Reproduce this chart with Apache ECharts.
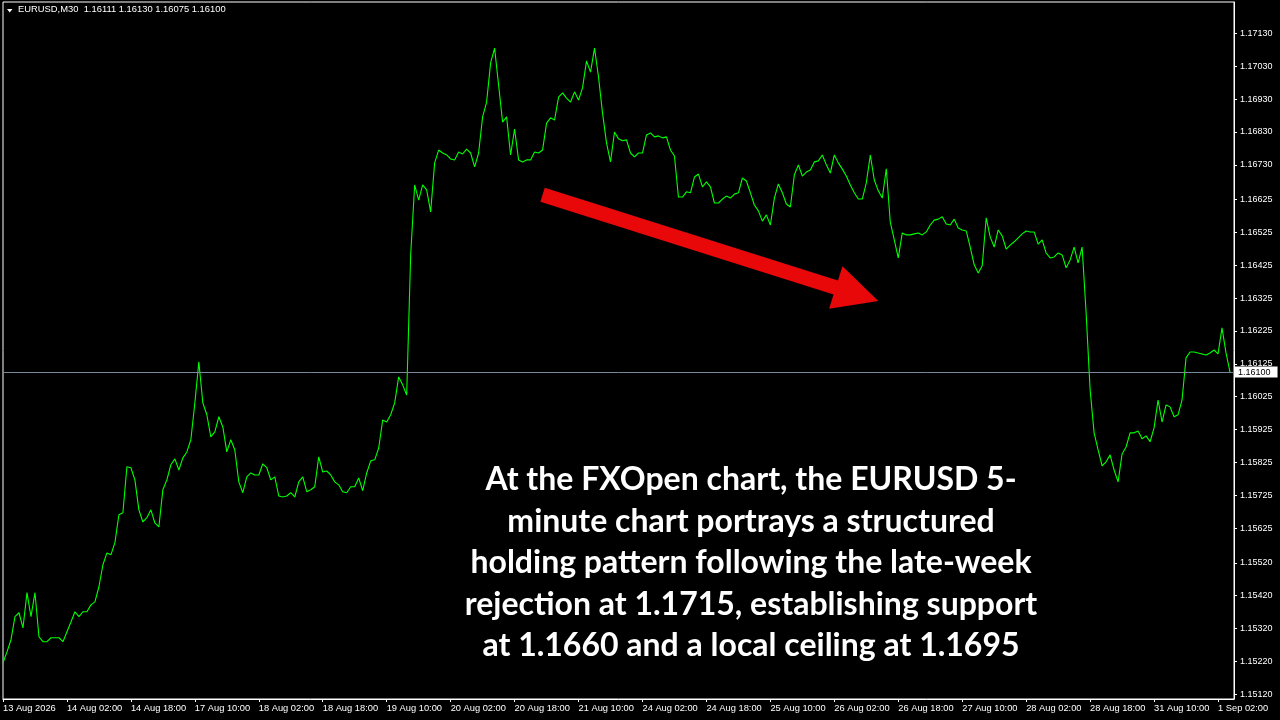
<!DOCTYPE html>
<html>
<head>
<meta charset="utf-8">
<script src="https://cdn.jsdelivr.net/npm/echarts@6.0.0/dist/echarts.min.js"></script>
<style>
  html, body { margin: 0; padding: 0; background: #000; }
  #c { width: 1280px; height: 720px; }
</style>
</head>
<body>
<div id="c"></div>
<script>
// ---- data ----
const SYMBOL = "EURUSD,M30";
const OHLC = ["1.16111", "1.16130", "1.16075", "1.16100"];
const CURRENT_PRICE = 1.16100;

// x-axis tick labels (one every 32 M30 bars = every 16 sampled points)
const X_LABELS = ["13 Aug 2026","14 Aug 02:00","14 Aug 18:00","17 Aug 10:00","18 Aug 02:00",
  "18 Aug 18:00","19 Aug 10:00","20 Aug 02:00","20 Aug 18:00","21 Aug 10:00","24 Aug 02:00",
  "24 Aug 18:00","25 Aug 10:00","26 Aug 02:00","26 Aug 18:00","27 Aug 10:00","28 Aug 02:00",
  "28 Aug 18:00","31 Aug 10:00","1 Sep 02:00"];
const X_LABEL_EVERY = 16;

// y-axis tick labels (price scale on the right)
const Y_TICKS = ["1.17130","1.17030","1.16930","1.16830","1.16730","1.16625","1.16525","1.16425",
  "1.16325","1.16225","1.16125","1.16025","1.15925","1.15825","1.15725","1.15625","1.15520",
  "1.15420","1.15320","1.15220","1.15120"];

// closing prices, sampled every second M30 bar
const PRICES = [
  1.15216,1.15249,1.15286,1.15356,1.15368,1.15322,1.15429,1.15356,1.15429,1.15295,
  1.15280,1.15280,1.15292,1.15292,1.15292,1.15280,1.15310,1.15340,1.15371,1.15356,
  1.15371,1.15371,1.15392,1.15401,1.15447,1.15514,1.15550,1.15544,1.15581,1.15666,
  1.15672,1.15812,1.15809,1.15772,1.15681,1.15644,1.15657,1.15681,1.15641,1.15629,
  1.15742,1.15772,1.15818,1.15836,1.15802,1.15839,1.15857,1.15894,1.16006,1.16131,
  1.16006,1.15970,1.15903,1.15918,1.15964,1.15933,1.15857,1.15894,1.15863,1.15766,
  1.15733,1.15781,1.15793,1.15787,1.15787,1.15821,1.15809,1.15772,1.15781,1.15723,
  1.15720,1.15723,1.15733,1.15720,1.15766,1.15781,1.15736,1.15742,1.15751,1.15842,
  1.15796,1.15799,1.15787,1.15766,1.15757,1.15736,1.15733,1.15751,1.15751,1.15778,
  1.15739,1.15793,1.15830,1.15833,1.15869,1.15954,1.15948,1.15970,1.16006,1.16085,
  1.16061,1.16030,1.16456,1.16669,1.16623,1.16669,1.16654,1.16587,1.16736,1.16775,
  1.16766,1.16760,1.16748,1.16745,1.16769,1.16763,1.16778,1.16766,1.16724,1.16766,
  1.16876,1.16921,1.17040,1.17085,1.16973,1.16860,1.16876,1.16760,1.16839,1.16745,
  1.16739,1.16745,1.16745,1.16769,1.16766,1.16775,1.16857,1.16873,1.16866,1.16936,
  1.16949,1.16933,1.16921,1.16952,1.16927,1.16964,1.17046,1.17012,1.17085,1.16997,
  1.16888,1.16797,1.16739,1.16830,1.16809,1.16803,1.16806,1.16766,1.16754,1.16766,
  1.16766,1.16821,1.16827,1.16815,1.16818,1.16812,1.16815,1.16775,1.16757,1.16632,
  1.16632,1.16648,1.16645,1.16693,1.16702,1.16663,1.16678,1.16663,1.16614,1.16614,
  1.16626,1.16635,1.16629,1.16641,1.16645,1.16690,1.16681,1.16645,1.16608,1.16590,
  1.16559,1.16578,1.16547,1.16629,1.16672,1.16645,1.16611,1.16602,1.16699,1.16730,
  1.16696,1.16708,1.16714,1.16739,1.16742,1.16760,1.16730,1.16705,1.16760,1.16736,
  1.16717,1.16696,1.16669,1.16645,1.16626,1.16626,1.16675,1.16760,1.16684,1.16651,
  1.16629,1.16718,1.16556,1.16502,1.16447,1.16523,1.16517,1.16517,1.16520,1.16523,
  1.16517,1.16526,1.16547,1.16562,1.16565,1.16572,1.16550,1.16547,1.16565,1.16538,
  1.16532,1.16529,1.16480,1.16426,1.16401,1.16423,1.16569,1.16511,1.16480,1.16532,
  1.16514,1.16474,1.16486,1.16496,1.16508,1.16520,1.16529,1.16526,1.16526,1.16489,
  1.16502,1.16462,1.16447,1.16450,1.16462,1.16456,1.16417,1.16441,1.16480,1.16432,
  1.16480,1.16280,1.16046,1.15915,1.15863,1.15815,1.15827,1.15848,1.15802,1.15766,
  1.15851,1.15872,1.15915,1.15915,1.15921,1.15897,1.15906,1.15888,1.15930,1.16015,
  1.15948,1.16000,1.15994,1.15964,1.15970,1.16015,1.16143,1.16161,1.16161,1.16158,
  1.16155,1.16152,1.16158,1.16167,1.16155,1.16234,1.16158,1.16100
];

// one empty slot after the last bar (chart shift on the right)
const CATEGORIES = Array.from({ length: PRICES.length + 1 }, (_, i) => i);

// annotation arrow (category index, price) and caption
const ARROW_FROM = [135, 1.16639];
const ARROW_TO = [219, 1.16316];
const CAPTION = [
  "At the FXOpen chart, the EURUSD 5-",
  "minute chart portrays a structured",
  "holding pattern following the late-week",
  "rejection at 1.1715, establishing support",
  "at 1.1660 and a local ceiling at 1.1695"
];

// ---- chart ----
const AXIS_FONT = "Liberation Sans";
const chart = echarts.init(document.getElementById('c'), null, { renderer: 'canvas' });

const option = {
  backgroundColor: '#000',
  animation: false,
  grid: { left: 2, right: 46, top: 2, bottom: 21, show: true, borderColor: '#ffffff', borderWidth: 1, backgroundColor: 'transparent' },
  xAxis: {
    type: 'category',
    data: CATEGORIES,
    boundaryGap: false,
    axisLine: { show: true, lineStyle: { color: '#ffffff', width: 1 } },
    axisTick: { show: true, length: 3, interval: (i) => i % X_LABEL_EVERY === 0, lineStyle: { color: '#ffffff' } },
    axisLabel: {
      show: true,
      interval: (i) => i % X_LABEL_EVERY === 0,
      formatter: (v, i) => X_LABELS[i / X_LABEL_EVERY] || '',
      align: 'left',
      color: '#ffffff',
      fontFamily: AXIS_FONT,
      fontSize: 9.3,
      margin: 5,
      hideOverlap: false
    },
    splitLine: { show: false }
  },
  yAxis: {
    type: 'value',
    position: 'right',
    min: 1.151057,
    max: 1.172252,
    scale: true,
    axisLine: { show: true, lineStyle: { color: '#ffffff', width: 1 } },
    axisTick: { show: true, length: 3, customValues: Y_TICKS.map(Number), lineStyle: { color: '#ffffff' } },
    axisLabel: {
      show: true,
      customValues: Y_TICKS.map(Number),
      formatter: (v) => v.toFixed(5),
      color: '#ffffff',
      fontFamily: AXIS_FONT,
      fontSize: 9,
      margin: 6
    },
    splitLine: { show: false }
  },
  series: [{
    type: 'line',
    data: PRICES,
    showSymbol: false,
    symbol: 'none',
    smooth: false,
    lineStyle: { color: '#00ff00', width: 1.1 },
    silent: true,
    markLine: {
      silent: true,
      symbol: 'none',
      animation: false,
      precision: 5,
      lineStyle: { color: '#778899', width: 1, type: 'solid' },
      label: {
        show: true,
        position: 'end',
        formatter: OHLC[3],
        backgroundColor: '#ffffff',
        color: '#000000',
        fontFamily: AXIS_FONT,
        fontSize: 9,
        padding: [1, 7, 1, 3],
        distance: 1
      },
      data: [[
        { coord: [0, CURRENT_PRICE] },
        { coord: [CATEGORIES.length - 1, CURRENT_PRICE] }
      ]]
    }
  }]
};
chart.setOption(option);

// arrow polygon built from data-space endpoints
function arrowPoints() {
  const a = chart.convertToPixel({ seriesIndex: 0 }, ARROW_FROM);
  const b = chart.convertToPixel({ seriesIndex: 0 }, ARROW_TO);
  const dx = b[0] - a[0], dy = b[1] - a[1];
  const len = Math.hypot(dx, dy);
  const ux = dx / len, uy = dy / len;
  const nx = -uy, ny = ux;
  const sh = 7.3, hh = 22.2, hl = 44.6;
  const cx = b[0] - ux * hl, cy = b[1] - uy * hl;
  return [
    [a[0] + nx * sh, a[1] + ny * sh],
    [cx + nx * sh, cy + ny * sh],
    [cx + nx * hh, cy + ny * hh],
    [b[0], b[1]],
    [cx - nx * hh, cy - ny * hh],
    [cx - nx * sh, cy - ny * sh],
    [a[0] - nx * sh, a[1] - ny * sh]
  ];
}

chart.setOption({
  graphic: [
    {
      type: 'polygon', silent: true, z: 50,
      shape: { points: [[7, 9], [12.5, 9], [9.75, 12.5]] },
      style: { fill: '#ffffff' }
    },
    {
      type: 'text', silent: true, z: 50, left: 18, top: 5,
      style: {
        text: SYMBOL + '  ' + OHLC.join(' '),
        fill: '#ffffff',
        font: '9.4px "' + AXIS_FONT + '"'
      }
    },
    {
      type: 'polygon', silent: true, z: 40,
      shape: { points: arrowPoints() },
      style: { fill: '#e8080a' }
    },
    {
      type: 'text', silent: true, z: 60,
      x: 751, y: 563,
      style: {
        text: CAPTION.join('\n'),
        fill: '#ffffff',
        font: 'bold 32px Lato',
        align: 'center',
        verticalAlign: 'middle',
        lineHeight: 41.5
      }
    }
  ]
});
</script>
</body>
</html>
